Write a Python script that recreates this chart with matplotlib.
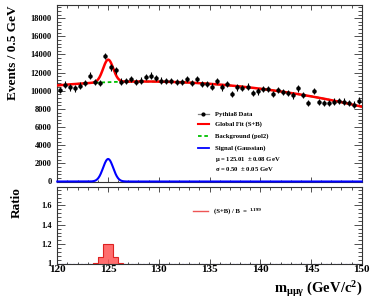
import matplotlib

matplotlib.use("Agg")

import matplotlib.pyplot as plt
import numpy as np
from matplotlib.ticker import MultipleLocator

# data: events per 0.5 GeV bin, 120 -> 150 GeV
bin_edges = np.arange(120.0, 150.01, 0.5)
data_counts = [
    10075, 10670, 10370, 10260, 10560, 10860, 11680, 10970, 10860, 13850,
    12580, 12240, 11010, 11050, 11310, 10970, 11120, 11530, 11680, 11420,
    11120, 11080, 11080, 10970, 10970, 11270, 10860, 11270, 10750, 10750,
    10450, 11050, 10370, 10750, 9630, 10370, 10300, 10450, 9740, 9930,
    10220, 10190, 9660, 10075, 9850, 9780, 9480, 10260, 9550, 8620,
    10000, 8770, 8650, 8620, 8800, 8880, 8800, 8620, 8470, 8920,
]
data_err = 350

# fit results
sig_amp = 2480
sig_mu = 125.01
sig_sigma = 0.50
bkg_max = 11020
bkg_x0 = 128.5
bkg_curv = 6.0

# (S+B)/B ratio near the peak (all other bins = 1)
ratio_edges = [123.5, 124.0, 124.5, 125.0, 125.5, 126.0, 126.5]
ratio_vals = [1.01, 1.07, 1.199, 1.199, 1.07, 1.01]

plt.rcParams["font.family"] = "Liberation Serif"
plt.rcParams["font.weight"] = "bold"
plt.rcParams["mathtext.fontset"] = "custom"
plt.rcParams["mathtext.rm"] = "Liberation Serif:bold"
plt.rcParams["mathtext.it"] = "Liberation Serif:bold"
plt.rcParams["mathtext.bf"] = "Liberation Serif:bold"

W, H = 381, 298
fig = plt.figure(figsize=(W / 100, H / 100), dpi=100)


def box(x0, y0, x1, y1):
    return [x0 / W, 1 - y1 / H, (x1 - x0) / W, (y1 - y0) / H]


ax = fig.add_axes(box(57.3, 5, 361.7, 181.5))
ax2 = fig.add_axes(box(57.3, 187, 361.7, 263.5))

frame_col = "#333333"
for a in (ax, ax2):
    for s in a.spines.values():
        s.set_color(frame_col)
        s.set_linewidth(0.8)
    a.set_xlim(120, 150)
    a.xaxis.set_major_locator(MultipleLocator(5))
    a.xaxis.set_minor_locator(MultipleLocator(1))
    a.tick_params(which="both", direction="in", top=True, right=True,
                  colors=frame_col, width=0.6, labelcolor="black")
    a.tick_params(axis="x", which="major", length=3.5)
    a.tick_params(axis="x", which="minor", length=1.8)
    a.tick_params(axis="y", which="major", length=6)
    a.tick_params(axis="y", which="minor", length=3)

x = np.linspace(120, 150, 800)
bkg = bkg_max - bkg_curv * (x - bkg_x0) ** 2
sig = sig_amp * np.exp(-0.5 * ((x - sig_mu) / sig_sigma) ** 2)
centers = 0.5 * (bin_edges[:-1] + bin_edges[1:])

ax.plot(x, sig, color="blue", lw=1.5, zorder=3, clip_on=False)
ax.plot(x, bkg, color="#00c000", lw=1.3, ls=(0, (2, 1.5)), zorder=2)
ax.plot(x, bkg + sig, color="red", lw=1.8, zorder=4)
ax.errorbar(centers, data_counts, yerr=data_err, fmt="o", ms=2.2,
            color="black", elinewidth=0.8, capsize=0, zorder=5)

ax.set_ylim(0, 19450)
ax.yaxis.set_major_locator(MultipleLocator(2000))
ax.yaxis.set_minor_locator(MultipleLocator(400))
ax.tick_params(axis="x", labelbottom=False)
ax.tick_params(axis="y", labelsize=6, pad=4)

# legend (top panel)
tr = ax.transAxes
rows = [0.381, 0.327, 0.256, 0.190]
ax.plot([0.462, 0.498], [rows[0]] * 2, color="gray", lw=0.9, transform=tr)
ax.plot([0.480], [rows[0]], "o", color="black", ms=2, transform=tr)
ax.plot([0.462, 0.498], [rows[1]] * 2, color="red", lw=1.5, transform=tr)
ax.plot([0.462, 0.498], [rows[2]] * 2, color="#00c000", lw=1.3,
        ls=(0, (2, 1.5)), transform=tr)
ax.plot([0.462, 0.498], [rows[3]] * 2, color="blue", lw=1.3, transform=tr)
labels = ["Pythia8 Data", "Global Fit (S+B)", "Background (pol2)",
          "Signal (Gaussian)"]
for yy, lab in zip(rows, labels):
    ax.text(0.517, yy, lab, transform=tr, fontsize=4.8, va="center")
ax.text(0.517, 0.124, r"$\mu$ = 125.01  $\pm$ 0.08 GeV", transform=tr,
        fontsize=4.8, va="center")
ax.text(0.517, 0.071, r"$\sigma$ = 0.50  $\pm$ 0.05 GeV", transform=tr,
        fontsize=4.8, va="center")

# ratio panel
ax2.axhline(1.0, color="blue", lw=0.8, ls=(0, (2, 1.5)), zorder=1)
ax2.stairs(ratio_vals, ratio_edges, baseline=1.0, fill=True,
           color="#ff5555", alpha=0.85, zorder=2)
ax2.stairs(ratio_vals, ratio_edges, baseline=1.0, color="#dd2222",
           lw=0.8, zorder=3)
ax2.set_ylim(1.0, 1.79)
ax2.yaxis.set_major_locator(MultipleLocator(0.2))
ax2.yaxis.set_minor_locator(MultipleLocator(0.04))
ax2.set_yticks([1.0, 1.2, 1.4, 1.6])
ax2.set_yticklabels(["1", "1.2", "1.4", "1.6"])
ax2.tick_params(axis="y", labelsize=6, pad=4)
ax2.tick_params(axis="x", labelsize=8, pad=1)

tr2 = ax2.transAxes
ax2.plot([0.446, 0.495], [0.686] * 2, color="#ee5555", lw=1.0, transform=tr2)
ax2.text(0.514, 0.686, "(S+B) / B  =", transform=tr2, fontsize=4.8,
         va="center")
ax2.text(0.633, 0.70, "1.199", transform=tr2, fontsize=3.8, va="center")

fig.text(13 / W, 1 - 5 / H, "Events / 0.5 GeV", rotation=90, ha="center",
         va="top", fontsize=9.5)
fig.text(17 / W, 1 - 187 / H, "Ratio", rotation=90, ha="center", va="top",
         fontsize=9.5)
fig.text(362 / W, 1 - 289 / H, r"m$_{\mu\mu\gamma}$ (GeV/c$^2$)",
         ha="right", va="center", fontsize=10.5)

fig.savefig("out.png", dpi=100)
